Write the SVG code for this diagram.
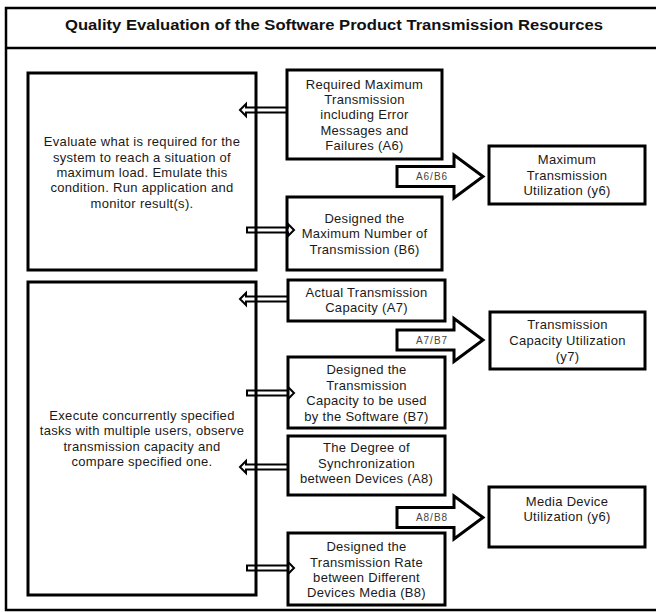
<svg xmlns="http://www.w3.org/2000/svg" width="656" height="612" viewBox="0 0 656 612">
<style>
  .frame{fill:none;stroke:#000;stroke-width:2.5}
  .box{fill:#fff;stroke:#000;stroke-width:3}
  .t{font-family:"Liberation Sans",Arial,sans-serif;font-size:13px;letter-spacing:0.3px;fill:#1a1a1a;text-anchor:middle}
  .title{font-family:"Liberation Sans",Arial,sans-serif;font-size:14.5px;font-weight:bold;fill:#111;text-anchor:middle}
  .sa{fill:none;stroke:#000;stroke-width:2;stroke-linejoin:miter}
  .ba{fill:#fff;stroke:#000;stroke-width:3;stroke-linejoin:miter}
  .lbl{font-family:"Liberation Sans",Arial,sans-serif;font-size:10px;letter-spacing:1px;fill:#444;text-anchor:middle}
</style>
<rect width="656" height="612" fill="#fff"/>
<g id="frame">
  <rect class="frame" x="6" y="8" width="660" height="602"/>
  <line x1="6" y1="48" x2="656" y2="48" stroke="#000" stroke-width="2.5"/>
  <text class="title" x="334" y="30" textLength="538" lengthAdjust="spacingAndGlyphs">Quality Evaluation of the Software Product Transmission Resources</text>
</g>
<g id="big1">
  <rect class="box" x="28" y="73" width="228" height="197"/>
  <text class="t" x="142" y="145.5">Evaluate what is required for the</text>
  <text class="t" x="142" y="161.5">system to reach a situation of</text>
  <text class="t" x="142" y="176.5">maximum load. Emulate this</text>
  <text class="t" x="142" y="191.5">condition. Run application and</text>
  <text class="t" x="142" y="207.5">monitor result(s).</text>
</g>
<g id="big2">
  <rect class="box" x="28" y="282" width="228" height="313"/>
  <text class="t" x="142" y="419.5">Execute concurrently specified</text>
  <text class="t" x="142" y="434.5">tasks with multiple users, observe</text>
  <text class="t" x="142" y="450.5">transmission capacity and</text>
  <text class="t" x="142" y="465.5">compare specified one.</text>
</g>
<g id="A6">
  <rect class="box" x="287" y="70" width="155" height="89"/>
  <text class="t" x="364.5" y="88.5">Required Maximum</text>
  <text class="t" x="364.5" y="103.5">Transmission</text>
  <text class="t" x="364.5" y="118.5">including Error</text>
  <text class="t" x="364.5" y="134.5">Messages and</text>
  <text class="t" x="364.5" y="149.5">Failures (A6)</text>
</g>
<g id="B6">
  <rect class="box" x="287" y="197" width="155" height="73"/>
  <text class="t" x="364.5" y="222.5">Designed the</text>
  <text class="t" x="364.5" y="237.5">Maximum Number of</text>
  <text class="t" x="364.5" y="253.5">Transmission (B6)</text>
</g>
<g id="Y6">
  <rect class="box" x="489" y="146" width="156" height="58"/>
  <text class="t" x="567" y="163.5">Maximum</text>
  <text class="t" x="567" y="179.5">Transmission</text>
  <text class="t" x="567" y="194.5">Utilization (y6)</text>
</g>
<g id="A7">
  <rect class="box" x="288" y="280" width="157" height="41"/>
  <text class="t" x="366.5" y="296.5">Actual Transmission</text>
  <text class="t" x="366.5" y="311.5">Capacity (A7)</text>
</g>
<g id="Y7">
  <rect class="box" x="490" y="312" width="155" height="57"/>
  <text class="t" x="567.5" y="328.5">Transmission</text>
  <text class="t" x="567.5" y="344.5">Capacity Utilization</text>
  <text class="t" x="567.5" y="360.5">(y7)</text>
</g>
<g id="B7">
  <rect class="box" x="288" y="357" width="157" height="71"/>
  <text class="t" x="366.5" y="373.5">Designed the</text>
  <text class="t" x="366.5" y="389.5">Transmission</text>
  <text class="t" x="366.5" y="404.5">Capacity to be used</text>
  <text class="t" x="366.5" y="420.5">by the Software (B7)</text>
</g>
<g id="A8">
  <rect class="box" x="288" y="436" width="157" height="59"/>
  <text class="t" x="366.5" y="451.5">The Degree of</text>
  <text class="t" x="366.5" y="467.5">Synchronization</text>
  <text class="t" x="366.5" y="482.5">between Devices (A8)</text>
</g>
<g id="Y8">
  <rect class="box" x="489" y="487" width="156" height="60"/>
  <text class="t" x="567" y="505.5">Media Device</text>
  <text class="t" x="567" y="520.5">Utilization (y6)</text>
</g>
<g id="B8">
  <rect class="box" x="288" y="533" width="157" height="72"/>
  <text class="t" x="366.5" y="550.5">Designed the</text>
  <text class="t" x="366.5" y="566.5">Transmission Rate</text>
  <text class="t" x="366.5" y="581.5">between Different</text>
  <text class="t" x="366.5" y="596.5">Devices Media (B8)</text>
</g>
<g id="connectors">
  <path class="sa" d="M240,110 L246,104 L246,107.5 L287,107.5 L287,112.5 L246,112.5 L246,116 Z"/>
  <path class="sa" d="M247,227.5 L288,227.5 L288,224 L294,230 L288,236 L288,232.5 L247,232.5 Z"/>
  <path class="sa" d="M240,299 L246,293 L246,296.5 L288,296.5 L288,301.5 L246,301.5 L246,305 Z"/>
  <path class="sa" d="M247,390.5 L288,390.5 L288,387 L294,393 L288,399 L288,395.5 L247,395.5 Z"/>
  <path class="sa" d="M240,467 L246,461 L246,464.5 L288,464.5 L288,469.5 L246,469.5 L246,473 Z"/>
  <path class="sa" d="M247,565.5 L288,565.5 L288,562 L294,568 L288,574 L288,570.5 L247,570.5 Z"/>
  <path class="ba" d="M397,166.5 L454,166.5 L454,155 L483,176.5 L454,198 L454,186.5 L397,186.5 Z"/>
  <text class="lbl" x="432" y="180">A6/B6</text>
  <path class="ba" d="M397,330 L454,330 L454,318.5 L483,340 L454,361.5 L454,350 L397,350 Z"/>
  <text class="lbl" x="432" y="343.5">A7/B7</text>
  <path class="ba" d="M397,507.5 L454,507.5 L454,496 L483,517.5 L454,539 L454,527.5 L397,527.5 Z"/>
  <text class="lbl" x="432" y="521">A8/B8</text>
</g>
</svg>
